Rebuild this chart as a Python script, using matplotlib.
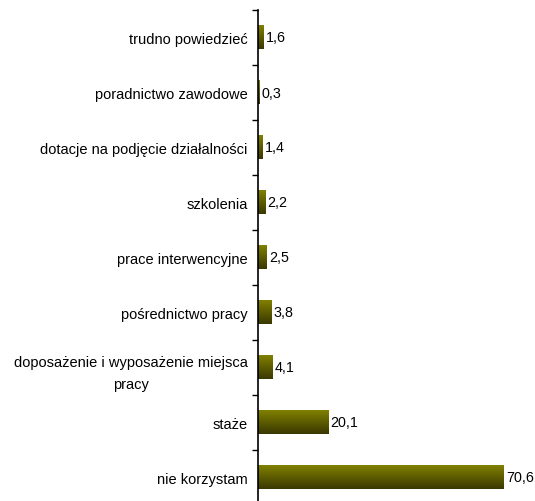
import numpy as np
import matplotlib.pyplot as plt
from matplotlib.colors import LinearSegmentedColormap

categories = ["trudno powiedzieć", "poradnictwo zawodowe", "dotacje na podjęcie działalności",
              "szkolenia", "prace interwencyjne", "pośrednictwo pracy",
              "doposażenie i wyposażenie miejsca\npracy", "staże", "nie korzystam"]
values = [1.6, 0.3, 1.4, 2.2, 2.5, 3.8, 4.1, 20.1, 70.6]
value_labels = ["1,6", "0,3", "1,4", "2,2", "2,5", "3,8", "4,1", "20,1", "70,6"]

plt.rcParams['font.family'] = ['Liberation Sans', 'DejaVu Sans']

fig = plt.figure(figsize=(5.35, 5.02), dpi=100)
ax = fig.add_axes([258 / 535, -4 / 502, 1 - 258 / 535, 495 / 502])

y = np.arange(len(categories))
bars = ax.barh(y, values, height=0.43, color='none', edgecolor='none')

# olive gradient, light on top, dark at bottom
cmap = LinearSegmentedColormap.from_list('olive', ['#808000', '#3a3800'])
grad = np.linspace(0, 1, 64).reshape(-1, 1)
for b in bars:
    x0, y0 = b.get_x(), b.get_y()
    w, h = b.get_width(), b.get_height()
    ax.imshow(grad, cmap=cmap, aspect='auto', origin='upper',
              extent=[x0, x0 + w, y0 + h, y0], zorder=2)

for i, v in enumerate(values):
    ax.annotate(value_labels[i], (v, i), xytext=(1.5, 0), textcoords='offset points',
                va='center', ha='left', fontsize=10.3, annotation_clip=False)

ax.set_xlim(0, 79.5)
ax.set_ylim(len(categories) - 0.5, -0.5)
ax.set_yticks(y)
ax.set_yticklabels(categories, fontsize=10.5, ha='right', multialignment='center',
                   linespacing=1.75)
ax.set_yticks(np.arange(-0.5, len(categories), 1), minor=True)
ax.tick_params(axis='y', which='major', length=0, pad=7.5)
ax.tick_params(axis='y', which='minor', length=4, width=1, direction='out')
ax.set_xticks([])
for s in ['top', 'right', 'bottom']:
    ax.spines[s].set_visible(False)
ax.spines['left'].set_linewidth(1.2)

fig.savefig('out.png', dpi=100)
